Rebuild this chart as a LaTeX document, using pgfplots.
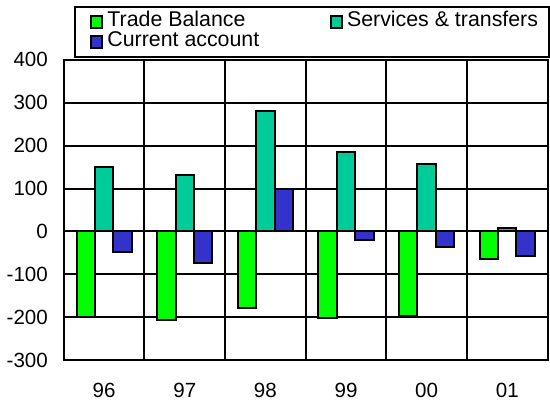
\documentclass[border=0pt]{standalone}
\usepackage{pgfplots}
\pgfplotsset{compat=1.18}
\usepackage{fontspec}
\setmainfont{Liberation Sans}
\definecolor{tbgreen}{RGB}{0,255,0}
\definecolor{stteal}{RGB}{0,204,153}
\definecolor{cablue}{RGB}{51,51,204}
\pgfplotsset{
  mybar/.style={ybar, bar width=0.228, draw=black, line width=1pt,
    legend image code/.code={\path (0pt,0pt); \draw[##1,line width=1pt] (4.2pt,-2.9pt) rectangle (10pt,2.9pt);}},
}
\begin{document}
\begin{tikzpicture}
\begin{axis}[
  scale only axis, width=242.5pt, height=150.5pt,
  xmin=-0.5, xmax=5.5, ymin=-300, ymax=400,
  xtick={0,...,5}, xticklabels={96,97,98,99,00,01},
  minor xtick={0.5,1.5,2.5,3.5,4.5},
  xminorgrids, ymajorgrids,
  ytick={-300,-200,...,400},
  yticklabels={-300,-200,-100,0,100,200,300,400},
  major tick length=0pt, minor tick length=0pt,
  grid style={black, line width=1pt},
  minor grid style={black, line width=1pt},
  axis line style={line width=1pt},
  tick label style={font=\fontsize{10.3}{12}\selectfont},
  yticklabel style={xshift=-4.5pt},
  xticklabel style={inner sep=0pt, yshift=-11.3pt},
  legend columns=2,
  legend style={at={(axis description cs:0.02,1)}, anchor=south west, yshift=1pt,
    draw=black, line width=1pt, font=\fontsize{10.7}{12}\selectfont,
    inner xsep=3.5pt, inner ysep=2.5pt,
    nodes={inner xsep=2pt, inner ysep=0pt, text height=7.5pt, text depth=2.5pt},
    cells={anchor=west},
    /tikz/every even column/.append style={column sep=29pt}},
]
\addplot[mybar, bar shift=-0.228, fill=tbgreen] coordinates {(0,-199) (1,-207) (2,-178) (3,-202) (4,-198) (5,-65)};
\addlegendentry{Trade Balance}
\addplot[mybar, bar shift=0, fill=stteal] coordinates {(0,150) (1,132) (2,281) (3,184) (4,157) (5,8)};
\addlegendentry{Services \& transfers}
\addplot[mybar, bar shift=0.228, fill=cablue] coordinates {(0,-47) (1,-74) (2,100) (3,-19) (4,-37) (5,-57)};
\addlegendentry{Current account}
\end{axis}
\path (current axis.north west) ++(-32pt,30pt);
\path (current axis.south west) ++(-32pt,-20.5pt);
\end{tikzpicture}
\end{document}
